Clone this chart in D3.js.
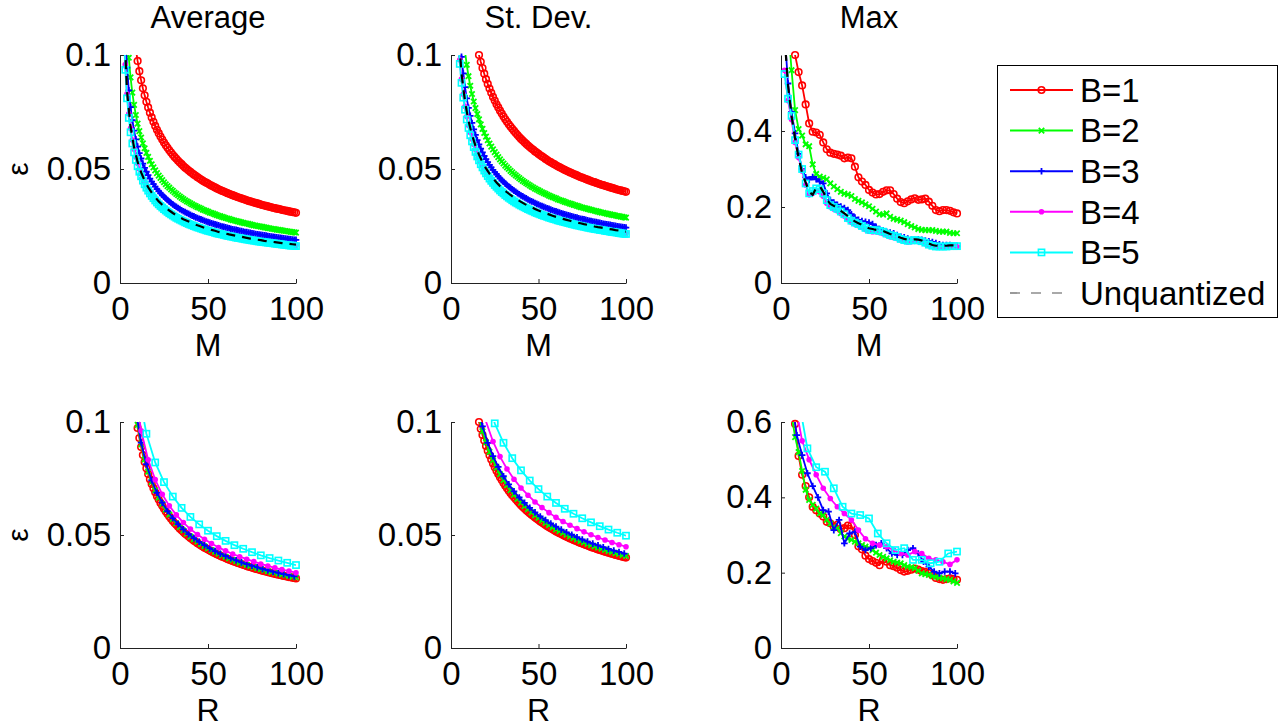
<!DOCTYPE html>
<html>
<head>
<meta charset="utf-8">
<script src="https://cdn.jsdelivr.net/npm/d3@7"></script>
<style>
body { margin: 0; background: #fff; }
text { font-family: "Liberation Sans", Arial, Helvetica, sans-serif; fill: #000; }
</style>
</head>
<body>
<svg id="chart" width="1283" height="728"></svg>
<script>
/**
 * Six panels: error vs M (top) and vs R (bottom), one curve per bit depth B
 */

var seriesNames = ['B=1', 'B=2', 'B=3', 'B=4', 'B=5', 'Unquantized'];
var seriesColors = ['#ff0000', '#00ff00', '#0000ff', '#ff00ff', '#00ffff', '#000000'];
var seriesMarkers = ['o', 'x', '+', '.', 's', null];

var xTicks = [0, 50, 100];
var epsTicks = [0, 0.05, 0.1];
var maxTicksTop = [0, 0.2, 0.4];
var maxTicksBottom = [0, 0.2, 0.4, 0.6];

// ---- top row, x = M ----
// Average, every M
var avgM_B1 = [.1089,.1027,.0974,.0929,.0889,.0854,.0823,.0795,.0770,.0747,.0726,.0707,.0689,.0672,.0657,.0642,.0629,.0616,.0604,.0593,.0582,.0572,.0562,.0553,.0545,.0536,.0528,.0521,.0513,.0506,.0500,.0493,.0487,.0481,.0475,.0470,.0464,.0459,.0454,.0449,.0444,.0440,.0436,.0431,.0427,.0423,.0419,.0415,.0411,.0408,.0404,.0401,.0398,.0394,.0391,.0388,.0385,.0382,.0379,.0376,.0374,.0371,.0368,.0366,.0363,.0360,.0358,.0356,.0353,.0351,.0349,.0347,.0344,.0342,.0340,.0338,.0336,.0334,.0332,.0330,.0328,.0326,.0325,.0323,.0321,.0319,.0318,.0316,.0314,.0313,.0311,.0310,.0308];
var avgM_B2 = [.1105,.0988,.0902,.0835,.0781,.0737,.0699,.0666,.0638,.0613,.0591,.0571,.0553,.0536,.0521,.0507,.0494,.0482,.0471,.0461,.0451,.0442,.0433,.0425,.0418,.0410,.0404,.0397,.0391,.0385,.0379,.0373,.0368,.0363,.0358,.0354,.0349,.0345,.0341,.0337,.0333,.0330,.0326,.0322,.0319,.0316,.0313,.0309,.0307,.0304,.0301,.0298,.0295,.0293,.0290,.0288,.0285,.0283,.0281,.0278,.0276,.0274,.0272,.0270,.0268,.0266,.0264,.0262,.0261,.0259,.0257,.0255,.0253,.0252,.0250,.0249,.0247,.0246,.0244,.0243,.0241,.0240,.0238,.0237,.0236,.0234,.0233,.0232,.0231,.0229,.0228,.0227,.0226,.0224,.0223,.0222,.0221];
var avgM_B3 = [.1336,.1091,.0945,.0845,.0771,.0714,.0668,.0630,.0598,.0570,.0546,.0524,.0505,.0488,.0473,.0458,.0445,.0434,.0423,.0412,.0403,.0394,.0386,.0378,.0371,.0364,.0357,.0351,.0345,.0339,.0334,.0329,.0324,.0319,.0315,.0311,.0307,.0303,.0299,.0295,.0292,.0288,.0285,.0282,.0279,.0276,.0273,.0270,.0267,.0265,.0262,.0260,.0257,.0255,.0253,.0250,.0248,.0246,.0244,.0242,.0240,.0238,.0236,.0234,.0233,.0231,.0229,.0228,.0226,.0224,.0223,.0221,.0220,.0218,.0217,.0215,.0214,.0213,.0211,.0210,.0209,.0208,.0206,.0205,.0204,.0203,.0201,.0200,.0199,.0198,.0197,.0196,.0195,.0194,.0193,.0192,.0191,.0190,.0189];
var avgM_B4 = [.1174,.0958,.0830,.0742,.0678,.0627,.0587,.0553,.0525,.0500,.0479,.0460,.0444,.0429,.0415,.0403,.0391,.0381,.0371,.0362,.0354,.0346,.0339,.0332,.0326,.0320,.0314,.0308,.0303,.0298,.0293,.0289,.0285,.0281,.0277,.0273,.0269,.0266,.0262,.0259,.0256,.0253,.0250,.0248,.0245,.0242,.0240,.0237,.0235,.0232,.0230,.0228,.0226,.0224,.0222,.0220,.0218,.0216,.0214,.0212,.0211,.0209,.0208,.0206,.0204,.0203,.0201,.0200,.0198,.0197,.0196,.0194,.0193,.0192,.0190,.0189,.0188,.0187,.0186,.0184,.0183,.0182,.0181,.0180,.0179,.0178,.0177,.0176,.0175,.0174,.0173,.0172,.0171,.0170,.0169,.0168,.0168,.0167,.0166];
var avgM_B5 = [.1146,.0935,.0810,.0724,.0661,.0612,.0573,.0540,.0512,.0488,.0468,.0449,.0433,.0418,.0405,.0393,.0382,.0372,.0362,.0353,.0345,.0338,.0331,.0324,.0318,.0312,.0306,.0301,.0296,.0291,.0286,.0282,.0278,.0274,.0270,.0266,.0263,.0259,.0256,.0253,.0250,.0247,.0244,.0242,.0239,.0236,.0234,.0231,.0229,.0227,.0225,.0223,.0220,.0218,.0216,.0215,.0213,.0211,.0209,.0207,.0206,.0204,.0203,.0201,.0199,.0198,.0197,.0195,.0194,.0192,.0191,.0190,.0188,.0187,.0186,.0185,.0183,.0182,.0181,.0180,.0179,.0178,.0177,.0176,.0175,.0174,.0173,.0172,.0171,.0170,.0169,.0168,.0167,.0166,.0165,.0164,.0164,.0163,.0162];
// dashed curve, every 2nd M
var avgM_Unq = [.1188,.0840,.0686,.0594,.0531,.0485,.0449,.0420,.0396,.0376,.0358,.0343,.0329,.0318,.0307,.0297,.0288,.0280,.0273,.0266,.0259,.0253,.0248,.0242,.0238,.0233,.0229,.0224,.0221,.0217,.0213,.0210,.0207,.0204,.0201,.0198,.0195,.0193,.0190,.0188,.0185,.0183,.0181,.0179,.0177,.0175,.0173,.0172,.0170,.0168];

// St. Dev., every M
var sdM_B1 = [.1069,.1033,.1000,.0970,.0943,.0918,.0894,.0873,.0853,.0834,.0816,.0800,.0784,.0770,.0756,.0743,.0730,.0718,.0707,.0696,.0686,.0676,.0667,.0658,.0649,.0640,.0632,.0625,.0617,.0610,.0603,.0596,.0590,.0584,.0577,.0572,.0566,.0560,.0555,.0550,.0544,.0539,.0534,.0530,.0525,.0521,.0516,.0512,.0508,.0504,.0500,.0496,.0492,.0489,.0485,.0482,.0478,.0475,.0472,.0468,.0465,.0462,.0459,.0456,.0453,.0450,.0447,.0444,.0442,.0439,.0436,.0434,.0431,.0429,.0426,.0424,.0422,.0419,.0417,.0415,.0412,.0410,.0408,.0406,.0404,.0402,.0400];
var sdM_B2 = [.1171,.1085,.1015,.0957,.0907,.0865,.0829,.0796,.0767,.0741,.0718,.0696,.0676,.0658,.0642,.0626,.0612,.0598,.0586,.0574,.0563,.0552,.0542,.0533,.0524,.0515,.0507,.0500,.0492,.0485,.0478,.0472,.0466,.0460,.0454,.0448,.0443,.0438,.0433,.0428,.0423,.0419,.0414,.0410,.0406,.0402,.0398,.0394,.0391,.0387,.0383,.0380,.0377,.0374,.0371,.0367,.0364,.0362,.0359,.0356,.0353,.0351,.0348,.0346,.0343,.0341,.0338,.0336,.0333,.0331,.0329,.0327,.0325,.0323,.0321,.0319,.0317,.0315,.0313,.0311,.0309,.0308,.0306,.0304,.0302,.0301,.0299,.0298,.0296,.0294,.0293,.0291,.0290,.0288,.0287];
var sdM_B3 = [.1215,.1087,.0992,.0919,.0859,.0810,.0768,.0733,.0702,.0674,.0650,.0627,.0608,.0589,.0573,.0557,.0543,.0530,.0518,.0507,.0496,.0486,.0477,.0468,.0459,.0451,.0444,.0436,.0430,.0423,.0417,.0411,.0405,.0400,.0394,.0389,.0384,.0380,.0375,.0371,.0366,.0362,.0358,.0355,.0351,.0347,.0344,.0340,.0337,.0334,.0331,.0328,.0325,.0322,.0319,.0316,.0314,.0311,.0309,.0306,.0304,.0301,.0299,.0297,.0295,.0293,.0290,.0288,.0287,.0284,.0282,.0281,.0279,.0277,.0275,.0273,.0272,.0270,.0268,.0267,.0265,.0264,.0262,.0260,.0259,.0258,.0256,.0255,.0253,.0252,.0251,.0249,.0248,.0247,.0245,.0244,.0243];
var sdM_B4 = [.1095,.0979,.0894,.0828,.0774,.0730,.0692,.0660,.0632,.0608,.0585,.0565,.0548,.0531,.0516,.0502,.0490,.0478,.0467,.0457,.0447,.0438,.0429,.0422,.0414,.0407,.0400,.0393,.0387,.0381,.0376,.0370,.0365,.0360,.0355,.0351,.0346,.0342,.0338,.0334,.0330,.0327,.0323,.0320,.0316,.0313,.0310,.0307,.0304,.0301,.0298,.0295,.0293,.0290,.0288,.0285,.0283,.0280,.0278,.0276,.0274,.0272,.0270,.0268,.0266,.0264,.0262,.0260,.0258,.0256,.0254,.0253,.0251,.0250,.0248,.0246,.0245,.0243,.0242,.0240,.0239,.0238,.0236,.0235,.0233,.0232,.0231,.0230,.0228,.0227,.0226,.0225,.0224,.0222,.0221,.0220,.0219];
var sdM_B5 = [.1075,.0961,.0878,.0813,.0760,.0717,.0680,.0648,.0621,.0596,.0575,.0555,.0538,.0521,.0507,.0493,.0481,.0469,.0458,.0448,.0439,.0430,.0422,.0414,.0406,.0399,.0393,.0386,.0380,.0374,.0369,.0363,.0358,.0353,.0349,.0344,.0340,.0336,.0332,.0328,.0324,.0321,.0317,.0314,.0310,.0307,.0304,.0301,.0298,.0295,.0293,.0290,.0287,.0285,.0282,.0280,.0278,.0275,.0273,.0271,.0269,.0267,.0265,.0263,.0261,.0259,.0257,.0255,.0253,.0252,.0250,.0248,.0247,.0245,.0243,.0242,.0240,.0239,.0237,.0236,.0235,.0233,.0232,.0231,.0229,.0228,.0227,.0225,.0224,.0223,.0222,.0221,.0219,.0218,.0217,.0216,.0215];
// dashed curve, every 2nd M
var sdM_Unq = [.1125,.0919,.0796,.0711,.0650,.0601,.0563,.0530,.0503,.0480,.0459,.0441,.0425,.0411,.0398,.0386,.0375,.0365,.0356,.0347,.0339,.0332,.0325,.0318,.0312,.0306,.0301,.0295,.0290,.0286,.0281,.0277,.0273,.0269,.0265,.0262,.0258,.0255,.0252,.0248,.0245,.0243,.0240,.0237,.0235,.0232,.0230,.0227,.0225];

// Max, every 2nd M
var maxM_B1 = [.65,.60,.555,.52,.47,.42,.398,.396,.39,.37,.352,.343,.34,.338,.335,.328,.33,.328,.306,.278,.267,.258,.245,.238,.233,.234,.24,.244,.244,.234,.222,.213,.21,.215,.22,.223,.219,.22,.222,.214,.203,.192,.189,.192,.192,.19,.186,.183];
var maxM_B2 = [.68,.56,.455,.405,.388,.365,.36,.312,.287,.28,.277,.273,.262,.254,.247,.24,.235,.233,.229,.221,.216,.212,.207,.202,.195,.188,.181,.18,.183,.174,.169,.167,.164,.16,.155,.15,.146,.142,.14,.139,.139,.139,.137,.135,.135,.135,.132,.131,.131];
var maxM_B3 = [.66,.525,.45,.394,.34,.30,.278,.272,.279,.273,.267,.262,.236,.218,.212,.206,.201,.197,.192,.181,.172,.166,.163,.161,.159,.155,.148,.142,.138,.135,.133,.131,.126,.122,.12,.117,.114,.113,.115,.114,.112,.11,.108,.105,.102,.10,.10,.10,.098,.097];
var maxM_B4 = [.56,.48,.43,.37,.33,.295,.258,.232,.236,.243,.24,.228,.21,.2,.195,.19,.183,.176,.167,.16,.155,.151,.146,.141,.136,.135,.135,.133,.13,.126,.122,.12,.117,.113,.11,.108,.109,.11,.109,.107,.103,.099,.096,.094,.094,.094,.094,.095,.095,.095];
var maxM_B5 = [.55,.485,.44,.376,.338,.30,.262,.236,.242,.249,.247,.236,.218,.205,.2,.195,.188,.181,.171,.164,.159,.155,.15,.145,.14,.139,.139,.137,.135,.13,.126,.124,.121,.116,.113,.111,.112,.113,.112,.11,.106,.101,.098,.096,.096,.096,.096,.097,.097,.097];
var maxM_Unq = [.65,.52,.44,.38,.33,.29,.265,.24,.232,.25,.255,.24,.22,.208,.203,.197,.19,.183,.176,.169,.162,.157,.153,.148,.144,.142,.14,.139,.137,.133,.129,.126,.123,.119,.116,.114,.114,.115,.114,.112,.108,.104,.10,.098,.098,.098,.098,.099,.099,.099];

// ---- bottom row, x = R (multiples of B) ----
var avgR_B2 = [.0987,.0901,.0834,.0780,.0735,.0698,.0665,.0637,.0612,.0590,.0570,.0552,.0535,.0520,.0506,.0493,.0481,.0470,.0460,.0450,.0441,.0433,.0425,.0417,.0410,.0403,.0396,.0390,.0384,.0378,.0373,.0368,.0363,.0358,.0353,.0349,.0344,.0340,.0336,.0333,.0329,.0325,.0322,.0319,.0315,.0312];
var avgR_B3 = [.105,.0909,.0813,.0742,.0687,.0643,.0606,.0575,.0548,.0525,.0504,.0486,.0470,.0455,.0441,.0429,.0417,.0407,.0397,.0388,.0379,.0371,.0364,.0357,.0350,.0344,.0338,.0332,.0327,.0322,.0317];
var avgR_B4 = [.1178,.0961,.0833,.0745,.0680,.0629,.0589,.0555,.0526,.0502,.0481,.0462,.0445,.0430,.0416,.0404,.0393,.0382,.0372,.0363,.0355,.0347,.0340,.0333];
var avgR_B5 = [.1160,.0948,.0821,.0734,.0670,.0620,.0580,.0547,.0519,.0495,.0474,.0455,.0439,.0424,.0410,.0398,.0387,.0377,.0367];

var sdR_B2 = [.1018,.0959,.0910,.0868,.0831,.0798,.0769,.0743,.0720,.0698,.0678,.0660,.0643,.0628,.0614,.0600,.0587,.0576,.0565,.0554,.0544,.0534,.0525,.0517,.0509,.0501,.0494,.0486,.0480,.0473,.0467,.0461,.0455,.0449,.0444,.0439,.0434,.0429,.0425,.0420,.0416,.0411,.0407];
var sdR_B3 = [.1074,.0981,.0908,.0849,.0801,.0760,.0724,.0693,.0666,.0642,.0620,.0600,.0582,.0566,.0551,.0537,.0524,.0512,.0501,.0490,.0480,.0471,.0462,.0454,.0446,.0438,.0431,.0425,.0418];
var sdR_B4 = [.1120,.1002,.0914,.0847,.0792,.0747,.0708,.0676,.0646,.0621,.0599,.0578,.0560,.0543,.0528,.0514,.0501,.0489,.0478,.0467,.0457,.0448];
var sdR_B5 = [.1111,.0994,.0908,.0840,.0786,.0741,.0703,.0670,.0642,.0616,.0594,.0574,.0556,.0539,.0524,.0510,.0497];

var maxR_B1 = [.64,.595,.51,.46,.43,.40,.375,.366,.357,.349,.335,.331,.322,.327,.315,.318,.325,.325,.30,.27,.262,.245,.236,.231,.226,.22,.234,.229,.22,.217,.213,.207,.203,.205,.208,.211,.208,.204,.202,.199,.193,.186,.183,.181,.183,.185,.183,.181];
var maxR_B2 = [.62,.56,.52,.47,.42,.393,.38,.37,.357,.353,.34,.33,.322,.318,.305,.296,.29,.287,.282,.278,.273,.269,.265,.26,.253,.247,.242,.238,.233,.229,.227,.225,.22,.216,.214,.212,.205,.198,.196,.194,.191,.189,.187,.185,.183,.181,.177,.173];
var maxR_B3 = [.66,.565,.512,.464,.43,.40,.366,.362,.313,.34,.278,.304,.309,.269,.26,.265,.273,.278,.265,.251,.247,.247,.26,.265,.251,.229,.216,.203,.198,.203,.203,.198];
var maxR_B4 = [.65,.55,.50,.46,.424,.397,.375,.357,.34,.313,.29,.278,.273,.269,.26,.251,.247,.256,.251,.238,.234,.229,.222,.234];
var maxR_B5 = [.66,.53,.48,.468,.424,.375,.357,.353,.344,.304,.278,.26,.265,.234,.234,.225,.229,.251,.256];

function ser(start, step, values) {
    return { start: start, step: step, values: values };
}

var panels = [
    { left: 120, top: 55, width: 176, height: 228, title: 'Average', xLabel: 'M', yMax: 0.1, yTicks: epsTicks, eps: true,
      series: [ser(8, 1, avgM_B1), ser(4, 1, avgM_B2), ser(2, 1, avgM_B3), ser(2, 1, avgM_B4), ser(2, 1, avgM_B5), ser(2, 2, avgM_Unq)] },
    { left: 451, top: 55, width: 175, height: 228, title: 'St. Dev.', xLabel: 'M', yMax: 0.1, yTicks: epsTicks,
      series: [ser(14, 1, sdM_B1), ser(6, 1, sdM_B2), ser(4, 1, sdM_B3), ser(4, 1, sdM_B4), ser(4, 1, sdM_B5), ser(4, 2, sdM_Unq)] },
    { left: 781, top: 55, width: 176, height: 228, title: 'Max', xLabel: 'M', yMax: 0.6, yTicks: maxTicksTop,
      series: [ser(6, 2, maxM_B1), ser(4, 2, maxM_B2), ser(2, 2, maxM_B3), ser(2, 2, maxM_B4), ser(2, 2, maxM_B5), ser(2, 2, maxM_Unq)] },
    // B=1 along R is the same curve as along M
    { left: 120, top: 422, width: 176, height: 226, xLabel: 'R', yMax: 0.1, yTicks: epsTicks, eps: true,
      series: [ser(8, 1, avgM_B1), ser(10, 2, avgR_B2), ser(9, 3, avgR_B3), ser(8, 4, avgR_B4), ser(10, 5, avgR_B5)] },
    { left: 451, top: 422, width: 175, height: 226, xLabel: 'R', yMax: 0.1, yTicks: epsTicks,
      series: [ser(14, 1, sdM_B1), ser(16, 2, sdR_B2), ser(15, 3, sdR_B3), ser(16, 4, sdR_B4), ser(20, 5, sdR_B5)] },
    { left: 781, top: 422, width: 176, height: 226, xLabel: 'R', yMax: 0.6, yTicks: maxTicksBottom,
      series: [ser(6, 2, maxR_B1), ser(6, 2, maxR_B2), ser(6, 3, maxR_B3), ser(8, 4, maxR_B4), ser(10, 5, maxR_B5)] }
];

var svg = d3.select('#chart');
var fontFamily = '"Liberation Sans", Arial, Helvetica, sans-serif';

function drawMarker(g, type, cx, cy, color) {
    if (type === 'o') {
        g.append('circle').attr('cx', cx).attr('cy', cy).attr('r', 3.3)
            .attr('fill', 'none').attr('stroke', color).attr('stroke-width', 1.6);
    } else if (type === 's') {
        g.append('rect').attr('x', cx - 3.1).attr('y', cy - 3.1).attr('width', 6.2).attr('height', 6.2)
            .attr('fill', 'none').attr('stroke', color).attr('stroke-width', 1.6);
    } else if (type === '.') {
        g.append('circle').attr('cx', cx).attr('cy', cy).attr('r', 2.8).attr('fill', color);
    } else if (type === '+') {
        g.append('path').attr('d', 'M' + (cx - 3.3) + ',' + cy + 'h6.6M' + cx + ',' + (cy - 3.3) + 'v6.6')
            .attr('stroke', color).attr('stroke-width', 1.8);
    } else if (type === 'x') {
        g.append('path').attr('d', 'M' + (cx - 2.7) + ',' + (cy - 2.7) + 'l5.4,5.4M' + (cx - 2.7) + ',' + (cy + 2.7) + 'l5.4,-5.4')
            .attr('stroke', color).attr('stroke-width', 1.8);
    }
}

panels.forEach(function (p, pi) {
    var g = svg.append('g').attr('transform', 'translate(' + p.left + ',' + p.top + ')');
    var x = d3.scaleLinear().domain([0, 100]).range([0, p.width]);
    var y = d3.scaleLinear().domain([0, p.yMax]).range([p.height, 0]);

    var clipId = 'clip' + pi;
    g.append('clipPath').attr('id', clipId)
        .append('rect').attr('width', p.width).attr('height', p.height);

    var yAxis = g.append('g')
        .call(d3.axisLeft(y).tickValues(p.yTicks).tickSize(-4).tickSizeOuter(0).tickPadding(9).tickFormat(d3.format('~g')));
    var xAxis = g.append('g').attr('transform', 'translate(0,' + p.height + ')')
        .call(d3.axisBottom(x).tickValues(xTicks).tickSize(-4).tickSizeOuter(0).tickPadding(14));
    [yAxis, xAxis].forEach(function (a) {
        a.attr('font-size', 33).attr('font-family', fontFamily);
        a.selectAll('path, line').attr('stroke', '#222');
        a.selectAll('text').attr('fill', '#000');
    });

    if (p.title) {
        g.append('text').attr('x', p.width / 2).attr('y', -27)
            .attr('text-anchor', 'middle').attr('font-size', 31).text(p.title);
    }
    g.append('text').attr('x', p.width / 2).attr('y', p.height + 73)
        .attr('text-anchor', 'middle').attr('font-size', 32).text(p.xLabel);
    if (p.eps) {
        g.append('text').attr('transform', 'translate(' + (28 - p.left) + ',' + (p.height / 2) + ') rotate(-90)')
            .attr('text-anchor', 'middle').attr('font-size', 30).text('ε');
    }

    var line = d3.line()
        .x(function (d) { return x(d[0]); })
        .y(function (d) { return y(d[1]); });

    p.series.forEach(function (s, si) {
        var pts = s.values.map(function (v, i) { return [s.start + i * s.step, v]; });
        var color = seriesColors[si];
        var path = g.append('path').attr('d', line(pts))
            .attr('clip-path', 'url(#' + clipId + ')')
            .attr('fill', 'none').attr('stroke', color).attr('stroke-width', 1.8);
        if (!seriesMarkers[si]) {
            path.attr('stroke-width', 2.2).attr('stroke-dasharray', '9,7');
            return;
        }
        var mg = g.append('g');
        pts.filter(function (d) { return d[1] <= p.yMax + 1e-9; }).forEach(function (d) {
            drawMarker(mg, seriesMarkers[si], x(d[0]), y(d[1]), color);
        });
    });
});

// legend
var legend = svg.append('g');
legend.append('rect').attr('x', 997.5).attr('y', 65.5).attr('width', 280).attr('height', 252)
    .attr('fill', '#fff').attr('stroke', '#000').attr('stroke-width', 1);
seriesNames.forEach(function (name, i) {
    var ly = 90 + i * 40.6;
    var l = legend.append('line').attr('x1', 1010).attr('x2', 1073).attr('y1', ly).attr('y2', ly)
        .attr('stroke', seriesColors[i]).attr('stroke-width', 2);
    if (seriesMarkers[i]) {
        drawMarker(legend, seriesMarkers[i], 1041.5, ly, seriesColors[i]);
    } else {
        l.attr('stroke', '#555').attr('stroke-width', 1.2).attr('stroke-dasharray', '10,11');
    }
    legend.append('text').attr('x', 1080).attr('y', ly).attr('dy', '0.36em')
        .attr('font-size', 33).text(name);
});
</script>
</body>
</html>
